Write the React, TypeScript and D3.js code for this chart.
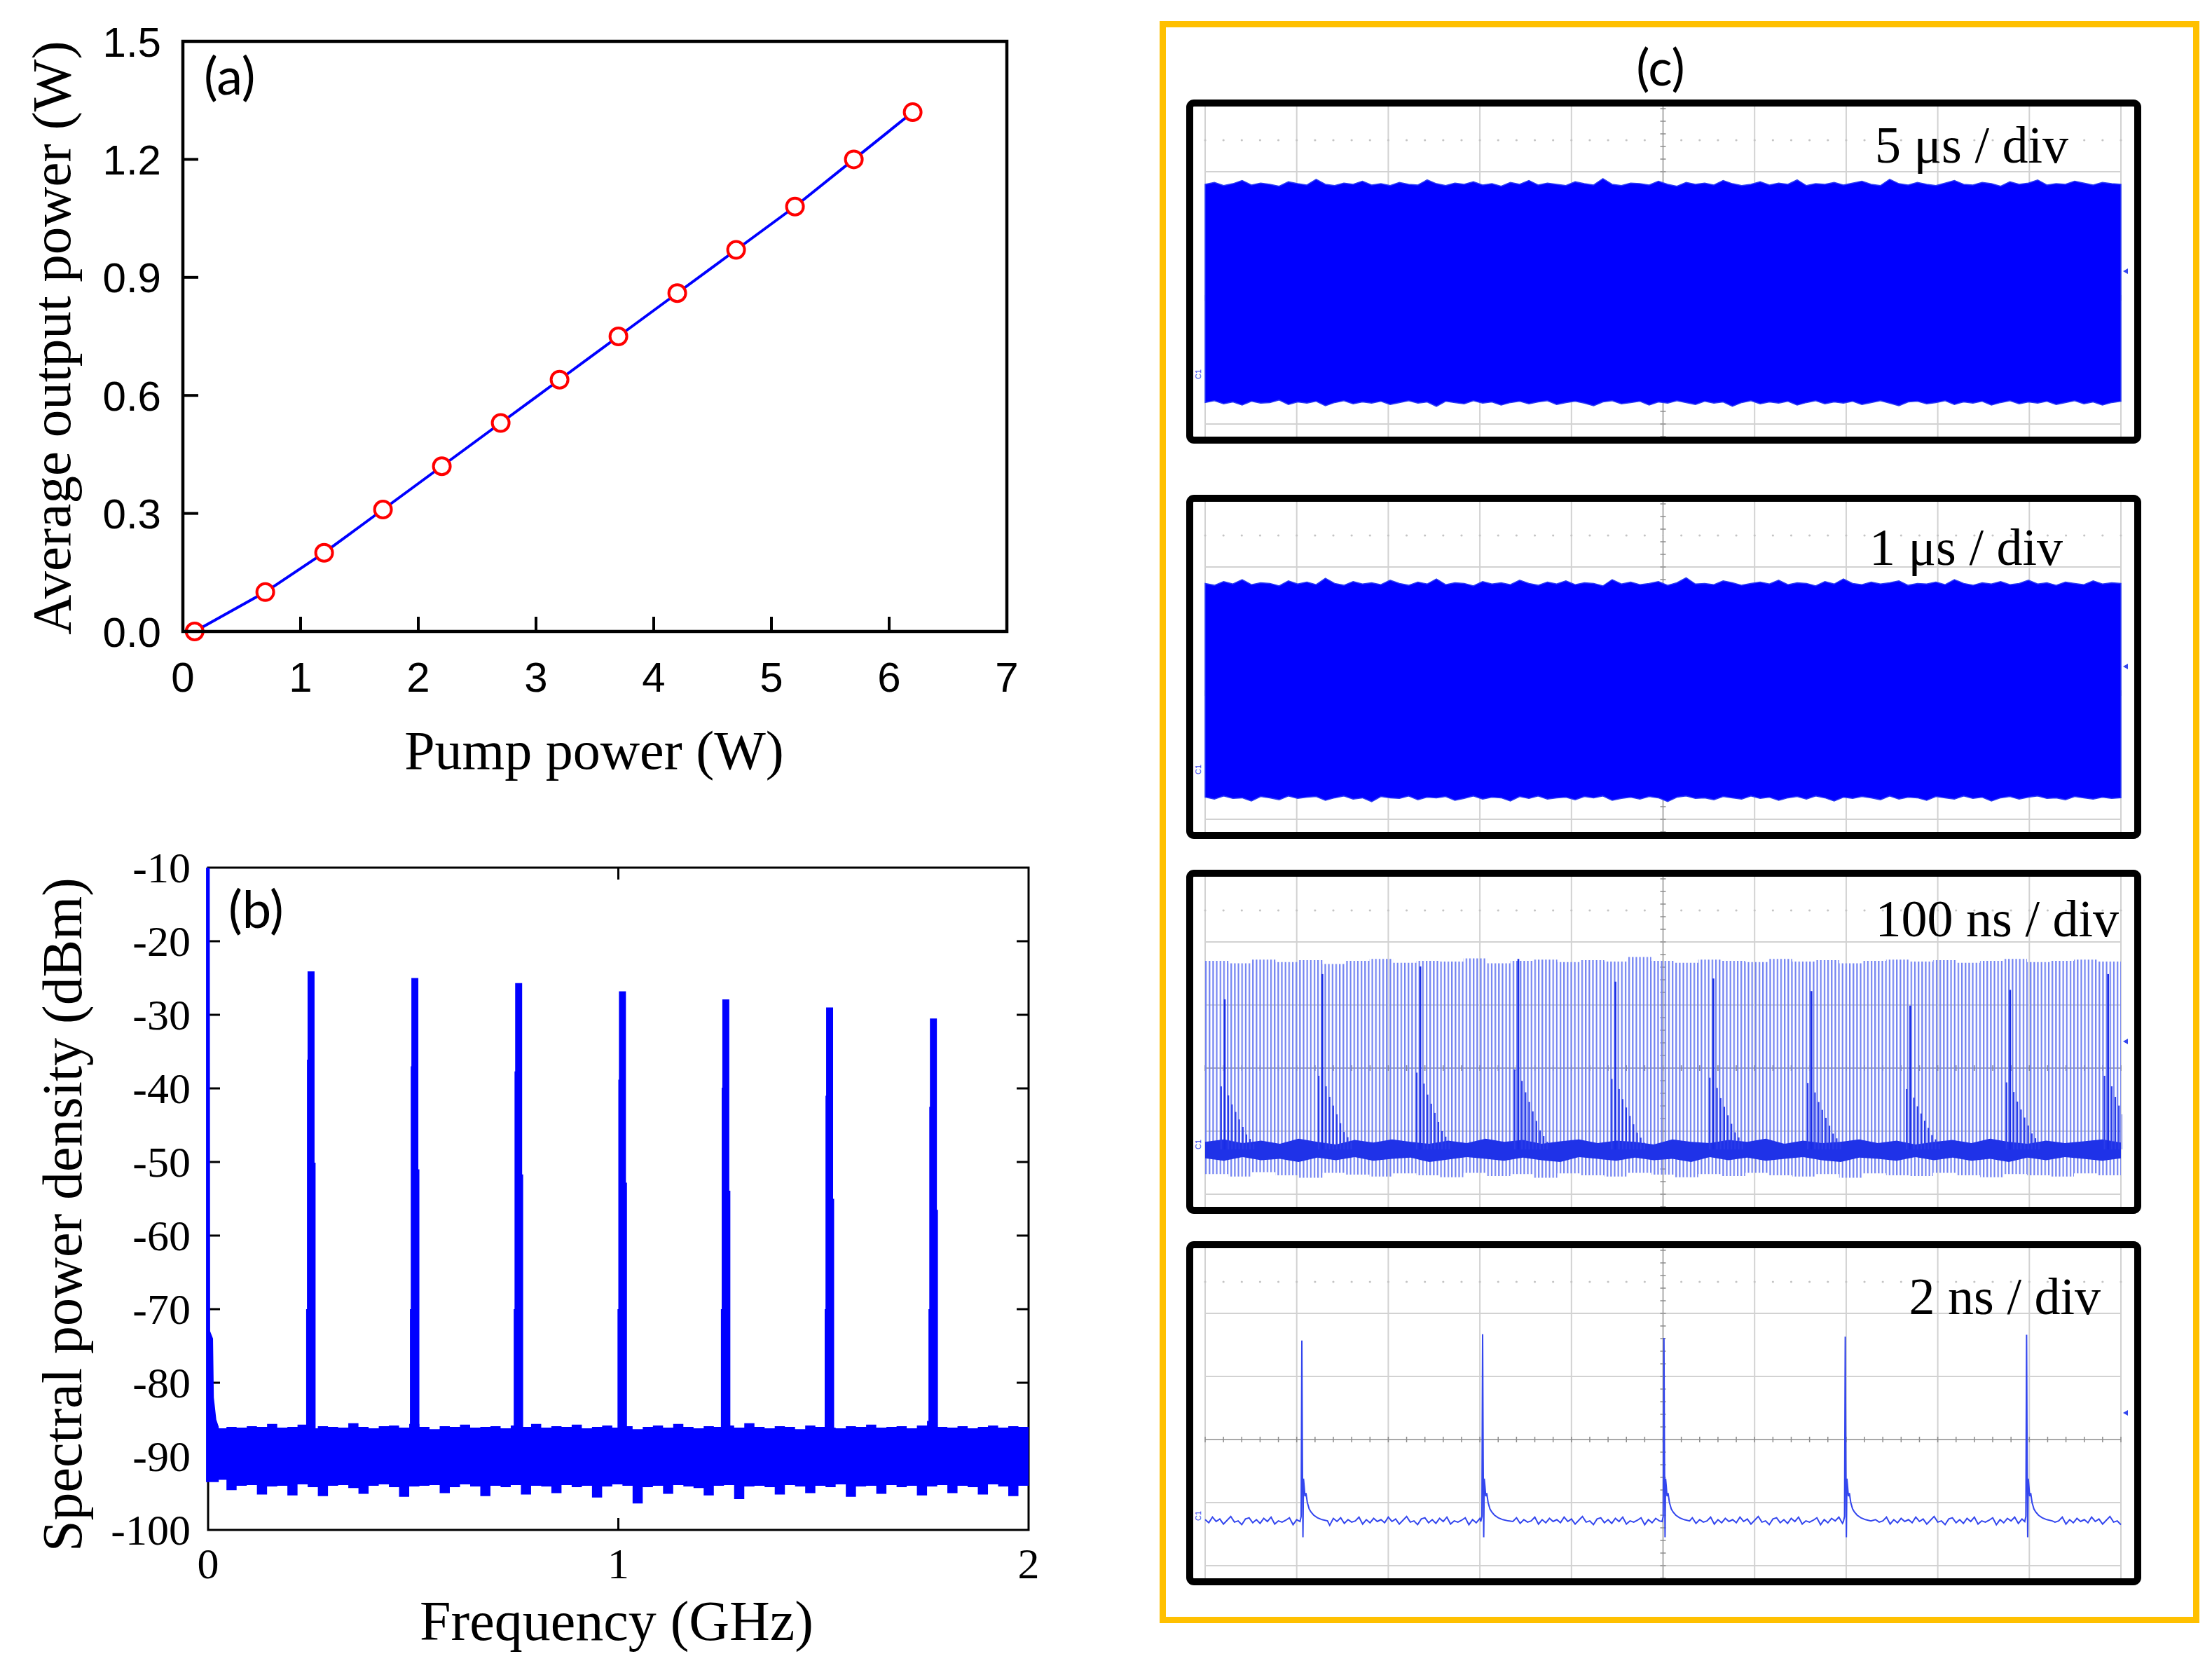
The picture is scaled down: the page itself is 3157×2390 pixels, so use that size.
import React from 'react';
import * as d3 from 'd3';

// ---------- (a) average output power vs pump power ----------
const pumpPower = [0.1, 0.7, 1.2, 1.7, 2.2, 2.7, 3.2, 3.7, 4.2, 4.7, 5.2, 5.7, 6.2];
const outputPower = [0.0, 0.1, 0.2, 0.31, 0.42, 0.53, 0.64, 0.75, 0.86, 0.97, 1.08, 1.2, 1.32];
const aXTicks = [0, 1, 2, 3, 4, 5, 6, 7];
const aYTicks = [0, 0.3, 0.6, 0.9, 1.2, 1.5];

// ---------- (b) RF spectrum ----------
const bXTicks = [0, 1, 2];
const bYTicks = [-10, -20, -30, -40, -50, -60, -70, -80, -90, -100];
const peakFreq = [0.251, 0.504, 0.757, 1.01, 1.262, 1.515, 1.768];
const peakLevel = [-24.1, -25.0, -25.7, -26.8, -27.9, -29.0, -30.5];
const dcFreq = [-0.005, 0.004, 0.005, 0.012, 0.014, 0.02, 0.026];
const dcLevel = [-10, -10, -73, -74, -82, -85, -86];
const noiseFrom = 0.02;
const noiseTo = 2.0;
const noiseUpper = [
  -86.2, -86.0, -86.1, -85.9, -86.0, -85.6, -86.1, -86.0, -85.7, -86.2, -85.9, -86.0, -86.1, -85.5, -86.0, -86.2,
  -85.9, -85.8, -86.1, -85.6, -86.0, -86.3, -85.9, -86.0, -85.7, -86.1, -86.0, -85.9, -86.2, -85.8, -86.0, -85.6,
  -86.1, -85.9, -86.0, -85.7, -86.2, -86.0, -85.8, -86.1, -85.9, -86.3, -86.0, -85.8, -86.1, -85.6, -86.0, -86.2,
  -85.9, -86.0, -85.8, -86.1, -85.5, -86.0, -86.2, -85.9, -86.0, -86.3, -85.8, -86.0, -86.1, -86.2, -85.9, -86.0,
  -85.7, -86.1, -86.0, -85.9, -86.2, -85.8, -85.2, -86.0, -86.1, -85.9, -86.2, -86.0, -85.8, -86.1, -85.9, -86.0, -85.4,
];
const noiseLower = [
  -93.2, -94.6, -94.0, -93.9, -95.2, -94.1, -94.0, -95.3, -93.8, -94.2, -95.4, -94.0, -93.9, -94.3, -95.1, -94.0,
  -93.8, -94.2, -95.5, -94.1, -94.0, -93.9, -95.0, -94.2, -93.8, -94.1, -95.4, -94.0, -94.2, -93.9, -95.2, -94.0,
  -94.1, -95.0, -93.9, -94.2, -94.0, -95.6, -94.1, -93.8, -94.0, -96.4, -94.2, -94.0, -95.1, -93.9, -94.1, -94.3,
  -95.3, -94.0, -93.9, -95.8, -94.1, -94.0, -94.2, -95.2, -93.9, -94.1, -95.0, -94.0, -94.2, -93.8, -95.5, -94.1,
  -94.0, -95.1, -93.9, -94.2, -94.0, -95.3, -94.1, -93.9, -95.0, -94.0, -94.2, -95.2, -93.8, -94.1, -95.4, -94.0, -94.3,
];

// ---------- (c) oscilloscope traces, in screen divisions ----------
const scopeLabels = ['5 \u03bcs / div', '1 \u03bcs / div', '100 ns / div', '2 ns / div'];
const trace1Top = [
  1.8, 1.83, 1.78, 1.81, 1.86, 1.79, 1.82, 1.8, 1.77, 1.84, 1.81, 1.79, 1.88, 1.8, 1.78, 1.82, 1.8, 1.85, 1.79, 1.81,
  1.78, 1.83, 1.8, 1.79, 1.87, 1.81, 1.78, 1.82, 1.8, 1.84, 1.79, 1.81, 1.77, 1.83, 1.8, 1.86, 1.79, 1.82, 1.8, 1.78,
  1.84, 1.81, 1.79, 1.89, 1.8, 1.78, 1.82, 1.81, 1.79, 1.85, 1.8, 1.77, 1.83, 1.8, 1.82, 1.79, 1.86, 1.81, 1.78, 1.8,
  1.84, 1.79, 1.82, 1.8, 1.87, 1.78, 1.81, 1.8, 1.83, 1.79, 1.82, 1.85, 1.8, 1.78, 1.88, 1.81, 1.79, 1.83, 1.8, 1.78,
  1.82, 1.86, 1.8, 1.79, 1.83, 1.81, 1.77, 1.84, 1.8, 1.82, 1.87, 1.79, 1.81, 1.8, 1.85, 1.82, 1.79, 1.83, 1.81, 1.8,
];
const trace1Bottom = [
  -1.66, -1.63, -1.68, -1.65, -1.7, -1.64, -1.67, -1.66, -1.62, -1.69, -1.65, -1.67, -1.64, -1.71, -1.66, -1.63,
  -1.68, -1.65, -1.67, -1.64, -1.69, -1.66, -1.63, -1.67, -1.65, -1.72, -1.64, -1.66, -1.68, -1.63, -1.67, -1.65,
  -1.7, -1.66, -1.64, -1.68, -1.65, -1.63, -1.69, -1.66, -1.64, -1.67, -1.71, -1.65, -1.63, -1.68, -1.66, -1.64,
  -1.7, -1.65, -1.67, -1.63, -1.66, -1.69, -1.64, -1.67, -1.65, -1.72, -1.66, -1.63, -1.68, -1.65, -1.67, -1.64,
  -1.7, -1.66, -1.63, -1.68, -1.65, -1.67, -1.64, -1.69, -1.66, -1.63, -1.67, -1.71, -1.65, -1.64, -1.68, -1.66,
  -1.63, -1.69, -1.65, -1.67, -1.64, -1.7, -1.66, -1.63, -1.68, -1.65, -1.67, -1.64, -1.69, -1.66, -1.63, -1.68,
  -1.65, -1.7, -1.66, -1.64,
];
const trace2Top = [
  1.74, 1.71, 1.77, 1.73, 1.8, 1.72, 1.75, 1.74, 1.7, 1.78, 1.73, 1.76, 1.72, 1.82, 1.74, 1.71, 1.77, 1.73, 1.75, 1.72,
  1.79, 1.74, 1.71, 1.76, 1.73, 1.81, 1.72, 1.75, 1.74, 1.7, 1.77, 1.73, 1.75, 1.72, 1.79, 1.74, 1.71, 1.76, 1.73, 1.78,
  1.72, 1.75, 1.74, 1.7, 1.8, 1.73, 1.76, 1.72, 1.74, 1.77, 1.71, 1.75, 1.83, 1.73, 1.74, 1.72, 1.78, 1.75, 1.71, 1.74,
  1.76, 1.73, 1.79, 1.72, 1.75, 1.74, 1.7, 1.77, 1.73, 1.81, 1.74, 1.72, 1.76, 1.73, 1.75, 1.78, 1.71, 1.74, 1.73, 1.76,
  1.72, 1.8, 1.74, 1.71, 1.75, 1.73, 1.77, 1.72, 1.74, 1.79, 1.73, 1.75, 1.71, 1.76, 1.74, 1.72, 1.78, 1.73, 1.75, 1.74,
];
const trace2Bottom = [
  -1.65, -1.68, -1.63, -1.67, -1.66, -1.71, -1.64, -1.66, -1.69, -1.63, -1.67, -1.65, -1.64, -1.7, -1.66, -1.63,
  -1.68, -1.66, -1.72, -1.64, -1.66, -1.67, -1.63, -1.69, -1.65, -1.66, -1.64, -1.7, -1.67, -1.63, -1.68, -1.65,
  -1.66, -1.71, -1.64, -1.67, -1.63, -1.68, -1.66, -1.65, -1.69, -1.64, -1.66, -1.63, -1.7, -1.67, -1.65, -1.68,
  -1.64, -1.66, -1.72, -1.65, -1.63, -1.67, -1.66, -1.69, -1.64, -1.66, -1.68, -1.63, -1.67, -1.65, -1.7, -1.66,
  -1.64, -1.68, -1.63, -1.66, -1.71, -1.65, -1.67, -1.64, -1.66, -1.69, -1.63, -1.68, -1.65, -1.66, -1.7, -1.64,
  -1.66, -1.68, -1.63, -1.67, -1.65, -1.71, -1.66, -1.64, -1.68, -1.65, -1.63, -1.67, -1.66, -1.69, -1.64, -1.66,
  -1.68, -1.65, -1.67, -1.66,
];
const combPeriodNs = 3.95;
const combTop = [
  1.7, 1.66, 1.72, 1.68, 1.71, 1.65, 1.7, 1.73, 1.67, 1.7, 1.69, 1.74, 1.66, 1.7, 1.72, 1.68, 1.71, 1.69, 1.76, 1.7,
  1.67, 1.72, 1.7, 1.68, 1.73, 1.69, 1.71, 1.66, 1.7, 1.72, 1.69, 1.71, 1.67, 1.7, 1.73, 1.68, 1.7, 1.72, 1.69, 1.71,
];
const combBottom = [
  -1.68, -1.72, -1.65, -1.7, -1.74, -1.66, -1.69, -1.72, -1.67, -1.7, -1.73, -1.66, -1.71, -1.68, -1.74, -1.67,
  -1.7, -1.72, -1.66, -1.69, -1.73, -1.68, -1.71, -1.66, -1.7, -1.72, -1.68, -1.74, -1.67, -1.7, -1.71, -1.66,
  -1.7, -1.73, -1.68, -1.7, -1.72, -1.67, -1.7, -1.69,
];
const darkTop = [
  -1.17, -1.13, -1.19, -1.15, -1.2, -1.12, -1.17, -1.21, -1.14, -1.18, -1.13, -1.17, -1.2, -1.15, -1.19, -1.12,
  -1.17, -1.14, -1.2, -1.16, -1.13, -1.19, -1.15, -1.17, -1.21, -1.13, -1.17, -1.19, -1.14, -1.17, -1.12, -1.2,
  -1.15, -1.19, -1.17, -1.13, -1.19, -1.15, -1.21, -1.17, -1.14, -1.19, -1.12, -1.17, -1.2, -1.15, -1.19, -1.16, -1.13, -1.18,
];
const darkBottom = [
  -1.43, -1.47, -1.41, -1.46, -1.44, -1.49, -1.42, -1.46, -1.41, -1.47, -1.44, -1.42, -1.49, -1.45, -1.41, -1.44,
  -1.47, -1.42, -1.46, -1.49, -1.41, -1.44, -1.47, -1.42, -1.46, -1.44, -1.49, -1.41, -1.46, -1.42, -1.47, -1.44,
  -1.41, -1.46, -1.49, -1.42, -1.44, -1.47, -1.41, -1.46, -1.42, -1.47, -1.44, -1.49, -1.42, -1.46, -1.41, -1.44, -1.47, -1.43,
];
const burstTime = [0.214, 1.28, 2.35, 3.42, 4.48, 5.55, 6.62, 7.7, 8.79, 9.86];
const burstTop = [1.09, 1.49, 1.61, 1.73, 1.37, 1.42, 1.22, 0.99, 1.24, 1.49];
const burstTailStep = [-1, 1, 2, 3, 4, 5, 6, 7, 8];
const burstTailFrac = [0.42, 0.36, 0.3, 0.25, 0.2, 0.15, 0.1, 0.07, 0.04];
const pulseTime = [1.056, 3.03, 5.01, 6.99, 8.97];
const pulsePeak = [1.57, 1.67, 1.61, 1.63, 1.66];
const pulseBase = -1.29;
const pulseShapeT = [-0.02, -0.008, 0, 0.006, 0.012, 0.018, 0.026, 0.034, 0.045, 0.06, 0.08, 0.1, 0.13, 0.17, 0.22, 0.28];
const pulseShapeV = [-1.3, -1.22, 1.6, -0.3, -1.55, -0.62, -0.75, -0.9, -0.85, -1.0, -1.1, -1.15, -1.2, -1.24, -1.27, -1.29];
const ripple = [
  0.02, -0.03, 0.06, -0.01, 0.03, -0.05, 0.01, 0.07, -0.02, 0.0, -0.06, 0.03, 0.05, -0.03, 0.02, -0.04, 0.04, -0.01,
  0.06, -0.05, 0.0, -0.02, 0.01, 0.05, -0.06, 0.02, -0.03, 0.04, 0.0, 0.06, -0.04, 0.03, -0.02, 0.01, -0.07, 0.04,
  -0.01, 0.05, -0.04, 0.02, -0.02, 0.0, 0.06, -0.05, 0.02, -0.03, 0.04, -0.01,
];

const SANS = '"Liberation Sans", Arial, sans-serif';
const SERIF = '"Liberation Serif", "Times New Roman", serif';
const LETTER = 'Lato, "Open Sans", sans-serif';

const PanelA = () => {
  const x = d3.scaleLinear().domain([0, 7]).range([261, 1437]);
  const y = d3.scaleLinear().domain([0, 1.5]).range([901, 59]);
  const line = d3.line<number>().x((d, i) => x(pumpPower[i])).y((d) => y(d));
  const fmt = d3.format('.1f');
  return (
    <g>
      <path d={line(outputPower) || ''} fill="none" stroke="#0000ff" strokeWidth={4} />
      {outputPower.map((v, i) => (
        <circle key={i} cx={x(pumpPower[i])} cy={y(v)} r={12} fill="#fff" stroke="#ff0000" strokeWidth={4} />
      ))}
      <rect x={261} y={59} width={1176} height={842} fill="none" stroke="#000" strokeWidth={4.5} />
      {aXTicks.slice(1, -1).map((t) => (
        <line key={t} x1={x(t)} x2={x(t)} y1={901} y2={880} stroke="#000" strokeWidth={4} />
      ))}
      {aYTicks.slice(1, -1).map((t) => (
        <line key={t} x1={261} x2={283} y1={y(t)} y2={y(t)} stroke="#000" strokeWidth={4} />
      ))}
      {aXTicks.map((t) => (
        <text key={t} x={x(t)} y={987} textAnchor="middle" fontFamily={SANS} fontSize={60}>{t}</text>
      ))}
      {aYTicks.map((t) => (
        <text key={t} x={230} y={y(t)} dy="0.36em" textAnchor="end" fontFamily={SANS} fontSize={60}>{fmt(t)}</text>
      ))}
      <text x={291} y={135} fontFamily={LETTER} fontSize={74}>(a)</text>
      <text x={848} y={1097} textAnchor="middle" fontFamily={SERIF} fontSize={78}>Pump power (W)</text>
      <text transform="translate(100,482) rotate(-90)" textAnchor="middle" fontFamily={SERIF} fontSize={79}>
        Average output power (W)
      </text>
    </g>
  );
};

const PanelB = () => {
  const x = d3.scaleLinear().domain([0, 2]).range([297, 1468]);
  const y = d3.scaleLinear().domain([-100, -10]).range([2183, 1238]);
  const step = (noiseTo - noiseFrom) / (noiseUpper.length - 1);
  const noiseArea = d3
    .area<number>()
    .x((d, i) => x(noiseFrom + i * step))
    .y0((d, i) => y(noiseLower[i]))
    .y1((d) => y(d))
    .curve(d3.curveStepAfter);
  const dcArea = d3
    .area<number>()
    .x((d, i) => x(dcFreq[i]))
    .y0(y(-93.5))
    .y1((d) => y(d));
  const peakPath = (f: number, p: number) => {
    const pts: [number, number][] = [
      [f - 0.012, -88], [f - 0.012, -70], [f - 0.01, -70], [f - 0.01, p - 12], [f - 0.0085, p - 12],
      [f - 0.0085, p], [f + 0.0085, p], [f + 0.0085, p - 26], [f + 0.011, p - 26], [f + 0.011, -88],
    ];
    return d3.line<[number, number]>().x((d) => x(d[0])).y((d) => y(d[1]))(pts) + 'Z';
  };
  return (
    <g>
      <defs>
        <clipPath id="clipB">
          <rect x={290} y={1238} width={1178} height={945} />
        </clipPath>
      </defs>
      <rect x={297} y={1238} width={1171} height={945} fill="none" stroke="#000" strokeWidth={3} />
      {bYTicks.slice(1, -1).map((t) => (
        <g key={t}>
          <line x1={297} x2={314} y1={y(t)} y2={y(t)} stroke="#000" strokeWidth={3} />
          <line x1={1468} x2={1451} y1={y(t)} y2={y(t)} stroke="#000" strokeWidth={3} />
        </g>
      ))}
      <line x1={x(1)} x2={x(1)} y1={1238} y2={1255} stroke="#000" strokeWidth={3} />
      <line x1={x(1)} x2={x(1)} y1={2183} y2={2166} stroke="#000" strokeWidth={3} />
      <g clipPath="url(#clipB)" fill="#0000ff">
        <path d={noiseArea(noiseUpper) || ''} />
        <path d={dcArea(dcLevel) || ''} />
        {peakFreq.map((f, i) => (
          <path key={i} d={peakPath(f, peakLevel[i])} />
        ))}
      </g>
      {bXTicks.map((t) => (
        <text key={t} x={x(t)} y={2252} textAnchor="middle" fontFamily={SERIF} fontSize={62}>{t}</text>
      ))}
      {bYTicks.map((t) => (
        <text key={t} x={272} y={y(t)} dy="0.34em" textAnchor="end" fontFamily={SERIF} fontSize={62}>{t}</text>
      ))}
      <text x={326} y={1324} fontFamily={LETTER} fontSize={74}>(b)</text>
      <text x={880} y={2340} textAnchor="middle" fontFamily={SERIF} fontSize={80}>Frequency (GHz)</text>
      <text transform="translate(116,1733) rotate(-90)" textAnchor="middle" fontFamily={SERIF} fontSize={80}>
        Spectral power density (dBm)
      </text>
    </g>
  );
};

const boxTops = [147, 711, 1246, 1776];
const boxLeft = 1698;
const boxRight = 3051;
const boxH = 481;
const gridX0 = 1720;
const gridX1 = 3027;
const centerOff = 278;
const divH = 90;
const labelRight = [2952, 2944, 3024, 2998];
const labelBase = [232, 806, 1336, 1875];
const timebaseNs = [5000, 1000, 100, 2];

const ScopeBox = ({ k }: { k: number }) => {
  const top = boxTops[k];
  const cy = top + centerOff;
  const x = d3.scaleLinear().domain([0, 10]).range([gridX0, gridX1]);
  const y = d3.scaleLinear().domain([-1, 1]).range([cy + divH, cy - divH]);
  const clipId = `scope${k}`;
  const band = (topV: number[], botV: number[], curve = d3.curveLinear) =>
    d3
      .area<number>()
      .x((d, i) => x((i * 10) / (topV.length - 1)))
      .y0((d, i) => y(botV[i]))
      .y1((d) => y(d))
      .curve(curve)(topV) || '';

  const minor = d3.range(0, 10.01, 0.2);
  const minorV = d3.range(-3, 3.01, 0.2);
  let content: React.ReactNode = null;
  if (k === 0) content = <path d={band(trace1Top, trace1Bottom)} fill="#0000ff" stroke="#2b3cf4" strokeWidth={1.5} />;
  if (k === 1) content = <path d={band(trace2Top, trace2Bottom)} fill="#0000ff" stroke="#2b3cf4" strokeWidth={1.5} />;
  if (k === 2) {
    const period = x(combPeriodNs / timebaseNs[2]) - x(0);
    const lines: React.ReactNode[] = [];
    burstTime.forEach((t, j) => {
      const h = burstTop[j] - pulseBase;
      lines.push(
        <line key={`b${j}`} x1={x(t)} x2={x(t)} y1={y(pulseBase)} y2={y(burstTop[j])} stroke="#1a2de6" strokeWidth={2.6} />
      );
      burstTailStep.forEach((s, m) => {
        const tx = x(t) + s * period;
        lines.push(
          <line key={`t${j}-${m}`} x1={tx} x2={tx} y1={y(pulseBase)} y2={y(pulseBase + h * burstTailFrac[m])}
            stroke="#2a3cea" strokeWidth={2.2} />
        );
      });
    });
    content = (
      <g>
        <defs>
          <pattern id="combPat" patternUnits="userSpaceOnUse" x={x(0)} y={0} width={period} height={20}>
            <line x1={1.1} x2={1.1} y1={0} y2={20} stroke="#7383f2" strokeWidth={2.2} />
          </pattern>
          <clipPath id="gridClip">
            <rect x={gridX0 - 2} y={top} width={gridX1 - gridX0 + 4} height={boxH} />
          </clipPath>
        </defs>
        <g clipPath="url(#gridClip)">
          <path d={band(combTop, combBottom, d3.curveStepAfter)} fill="url(#combPat)" />
          <path d={band(darkTop, darkBottom)} fill="#1f32e8" />
          {lines}
        </g>
      </g>
    );
  }
  if (k === 3) {
    const pts: [number, number][] = [];
    const rs = 0.04;
    d3.range(0, 10 / rs + 1).forEach((i) => {
      const t = i * rs;
      const near = pulseTime.some((p) => t > p - 0.03 && t < p + 0.3);
      if (!near) pts.push([t, pulseBase + ripple[i % ripple.length]]);
    });
    pulseTime.forEach((p, j) => {
      pulseShapeT.forEach((dt, m) => {
        pts.push([p + dt, m === 2 ? pulsePeak[j] : pulseShapeV[m]]);
      });
    });
    pts.sort((a, b) => a[0] - b[0]);
    const line = d3.line<[number, number]>().x((d) => x(d[0])).y((d) => y(d[1]));
    content = <path d={line(pts) || ''} fill="none" stroke="#3346ee" strokeWidth={2} />;
  }

  return (
    <g>
      <defs>
        <clipPath id={clipId}>
          <rect x={boxLeft + 5} y={top + 5} width={boxRight - boxLeft - 10} height={boxH - 10} />
        </clipPath>
      </defs>
      <g clipPath={`url(#${clipId})`}>
        {d3.range(0, 11).map((i) => (
          <line key={`v${i}`} x1={x(i)} x2={x(i)} y1={top} y2={top + boxH}
            stroke={i === 5 ? '#8c8c8c' : '#d2d2d2'} strokeWidth={i === 5 ? 1.5 : 2} />
        ))}
        {[-2, -1, 0, 1, 2].map((v) => (
          <line key={`h${v}`} x1={gridX0} x2={gridX1} y1={y(v)} y2={y(v)}
            stroke={v === 0 ? '#8c8c8c' : '#d2d2d2'} strokeWidth={v === 0 ? 1.5 : 2} />
        ))}
        {minor.map((m, i) => (
          <g key={`m${i}`}>
            <line x1={x(m)} x2={x(m)} y1={y(0) - 4} y2={y(0) + 4} stroke="#8c8c8c" strokeWidth={1.5} />
            <circle cx={x(m)} cy={y(2.5)} r={1.6} fill="#c4c4c4" />
          </g>
        ))}
        {minorV.map((m, i) => (
          <line key={`n${i}`} x1={x(5) - 4} x2={x(5) + 4} y1={y(m)} y2={y(m)} stroke="#8c8c8c" strokeWidth={1.5} />
        ))}
        {content}
        <path d={`M${gridX1 + 3},${top + 240} l7,-4 v8 z`} fill="#3346ee" />
        <text transform={`translate(${1714},${top + 387}) rotate(-90)`} textAnchor="middle" fontFamily={SANS}
          fontSize={11} fill="#3346ee">C1</text>
      </g>
      <rect x={boxLeft} y={top} width={boxRight - boxLeft} height={boxH} rx={6} fill="none" stroke="#000" strokeWidth={10} />
      <text x={labelRight[k]} y={labelBase[k]} textAnchor="end" fontFamily={SERIF} fontSize={74}>
        {scopeLabels[k]}
      </text>
    </g>
  );
};

const PanelC = () => (
  <g>
    <rect x={1659.5} y={34.5} width={1475} height={2277} fill="none" stroke="#ffc000" strokeWidth={9} />
    <text x={2370} y={122} textAnchor="middle" fontFamily={LETTER} fontSize={72}>(c)</text>
    {boxTops.map((t, k) => (
      <ScopeBox key={k} k={k} />
    ))}
  </g>
);

export default function App() {
  return (
    <svg width={3157} height={2390} style={{ position: 'absolute', left: 0, top: 0, background: '#fff' }}>
      <rect width={3157} height={2390} fill="#fff" />
      <PanelA />
      <PanelB />
      <PanelC />
    </svg>
  );
}
